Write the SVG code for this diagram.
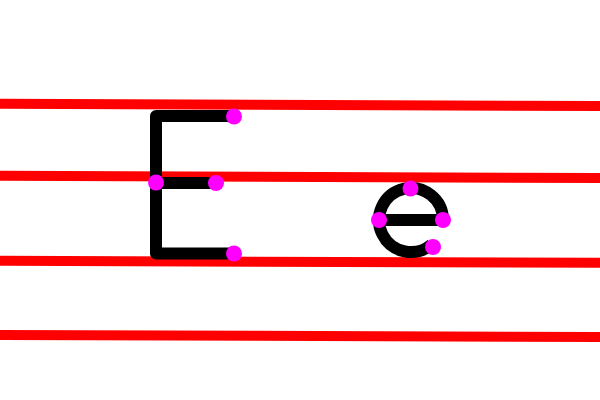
<svg xmlns="http://www.w3.org/2000/svg" width="600" height="400" viewBox="0 0 600 400">
<style>
.guide{stroke:#ff0000;stroke-width:10;fill:none}
.stroke{stroke:#000;stroke-width:12;fill:none;stroke-linejoin:round;stroke-linecap:butt}
.pt{fill:#ff00ff}
</style>
<rect width="600" height="400" fill="#fff"/>
<g id="guides">
<line class="guide" x1="0" y1="103.8" x2="600" y2="106"/>
<line class="guide" x1="0" y1="175.8" x2="600" y2="178"/>
<line class="guide" x1="0" y1="260.8" x2="600" y2="262.8"/>
<line class="guide" x1="0" y1="335" x2="600" y2="337"/>
</g>
<g id="letter-E">
<path class="stroke" d="M234,116 L156,116 L156,253.5 L234,253.5"/>
<path class="stroke" d="M156,183 L216,183"/>
<circle class="pt" cx="234" cy="116.5" r="8"/>
<circle class="pt" cx="156" cy="182.5" r="8"/>
<circle class="pt" cx="216" cy="183" r="8"/>
<circle class="pt" cx="234" cy="253.5" r="8"/>
</g>
<g id="letter-e">
<path class="stroke" d="M379,220 L443,220"/>
<path class="stroke" d="M443,220 A32,32 0 1 0 431.6,244.5"/>
<circle class="pt" cx="410.5" cy="188.5" r="8"/>
<circle class="pt" cx="379" cy="220" r="8"/>
<circle class="pt" cx="443" cy="220" r="8"/>
<circle class="pt" cx="433" cy="247" r="8"/>
</g>
</svg>
